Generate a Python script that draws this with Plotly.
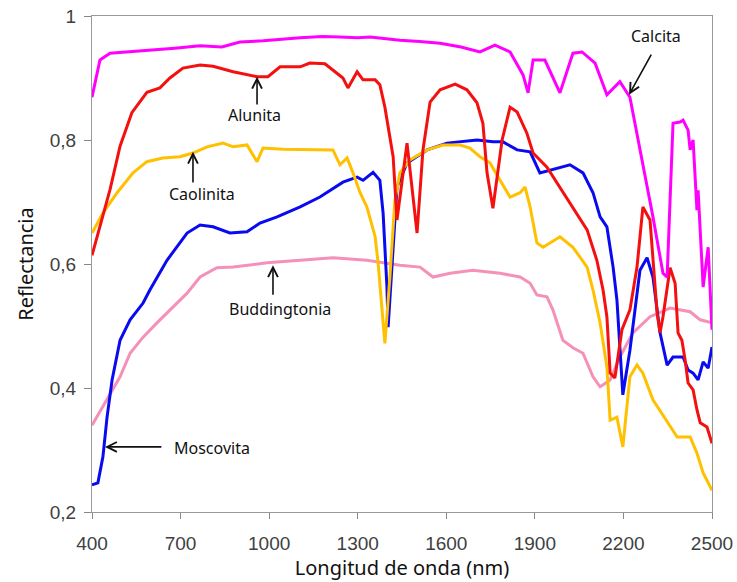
import plotly.graph_objects as go

# ---- data (wavelength nm, reflectance) ----
calcita_x = [400, 427, 461, 520, 596, 680, 766, 840, 901, 980, 1105, 1180, 1240, 1300, 1342, 1400,
             1443, 1510, 1579, 1650, 1714, 1765, 1816, 1860, 1877, 1894, 1934, 1985, 2029, 2060,
             2104, 2144, 2188, 2222, 2266, 2300, 2334, 2348, 2368, 2392, 2402, 2419, 2426, 2436,
             2449, 2453, 2470, 2487, 2500]
calcita_y = [0.869, 0.929, 0.940, 0.942, 0.945, 0.948, 0.952, 0.950, 0.958, 0.960, 0.965, 0.967, 0.966, 0.965, 0.966, 0.963,
             0.961, 0.959, 0.956, 0.950, 0.942, 0.953, 0.942, 0.905, 0.876, 0.929, 0.929, 0.876, 0.940, 0.942,
             0.924, 0.873, 0.894, 0.869, 0.763, 0.676, 0.585, 0.579, 0.827, 0.829, 0.832, 0.816, 0.784, 0.800,
             0.687, 0.719, 0.563, 0.627, 0.494]

alunita_x = [400, 427, 461, 495, 535, 586, 630, 664, 708, 766, 810, 878, 959, 996, 1037, 1105, 1138,
             1189, 1250, 1267, 1298, 1318, 1359, 1375, 1392, 1420, 1433, 1467, 1501, 1521, 1545, 1579,
             1630, 1670, 1704, 1724, 1738, 1758, 1789, 1816, 1840, 1873, 1894, 1941, 1985, 2029, 2077,
             2110, 2131, 2144, 2155, 2171, 2195, 2222, 2246, 2266, 2290, 2314, 2324, 2334, 2351, 2358,
             2375, 2385, 2398, 2409, 2419, 2436, 2449, 2460, 2483, 2500]
alunita_y = [0.614, 0.660, 0.720, 0.790, 0.844, 0.877, 0.884, 0.900, 0.916, 0.921, 0.919, 0.910, 0.902, 0.902, 0.918, 0.918, 0.924,
             0.923, 0.900, 0.884, 0.910, 0.897, 0.897, 0.889, 0.853, 0.773, 0.671, 0.795, 0.650, 0.784, 0.861, 0.881,
             0.890, 0.881, 0.860, 0.827, 0.747, 0.690, 0.800, 0.853, 0.845, 0.811, 0.779, 0.756, 0.724, 0.692, 0.655,
             0.606, 0.558, 0.515, 0.424, 0.416, 0.494, 0.526, 0.595, 0.692, 0.671, 0.521, 0.489, 0.515, 0.569, 0.594,
             0.569, 0.489, 0.477, 0.445, 0.408, 0.397, 0.365, 0.344, 0.337, 0.311]

caolinita_x = [400, 437, 485, 539, 586, 640, 698, 742, 790, 844, 878, 925, 959, 979, 1047, 1162, 1216,
               1240, 1264, 1284, 1308, 1331, 1348, 1359, 1369, 1382, 1392, 1409, 1426, 1443, 1477, 1535,
               1589, 1646, 1680, 1714, 1748, 1782, 1816, 1850, 1867, 1884, 1907, 1928, 1985, 2029, 2077,
               2097, 2121, 2144, 2155, 2178, 2198, 2222, 2246, 2266, 2300, 2334, 2382, 2426, 2449, 2470, 2500]
caolinita_y = [0.650, 0.682, 0.715, 0.747, 0.765, 0.771, 0.773, 0.779, 0.789, 0.795, 0.789, 0.792, 0.765, 0.787, 0.785, 0.785, 0.784,
               0.760, 0.771, 0.747, 0.715, 0.692, 0.660, 0.644, 0.602, 0.531, 0.472, 0.579, 0.703, 0.747, 0.768, 0.784,
               0.792, 0.792, 0.787, 0.773, 0.763, 0.735, 0.708, 0.715, 0.724, 0.692, 0.634, 0.627, 0.644, 0.627, 0.595,
               0.558, 0.505, 0.434, 0.348, 0.353, 0.305, 0.418, 0.437, 0.424, 0.381, 0.356, 0.321, 0.321, 0.295, 0.263, 0.235]

moscovita_x = [400, 420, 437, 451, 468, 495, 529, 573, 596, 654, 722, 766, 810, 867, 925, 969, 1027,
               1105, 1172, 1250, 1298, 1318, 1352, 1375, 1386, 1399, 1403, 1420, 1433, 1467, 1535, 1602,
               1704, 1758, 1792, 1840, 1884, 1917, 1985, 2019, 2063, 2097, 2121, 2144, 2165, 2178, 2198,
               2222, 2256, 2280, 2300, 2324, 2348, 2368, 2402, 2419, 2436, 2453, 2470, 2487, 2500]
moscovita_y = [0.244, 0.247, 0.289, 0.353, 0.413, 0.477, 0.510, 0.537, 0.558, 0.606, 0.650, 0.663, 0.660, 0.650, 0.652, 0.666, 0.676,
               0.692, 0.708, 0.732, 0.740, 0.735, 0.748, 0.735, 0.682, 0.563, 0.498, 0.618, 0.724, 0.763, 0.784, 0.795,
               0.800, 0.797, 0.797, 0.784, 0.781, 0.747, 0.755, 0.760, 0.747, 0.715, 0.676, 0.660, 0.595, 0.542, 0.389,
               0.461, 0.590, 0.610, 0.579, 0.489, 0.437, 0.450, 0.450, 0.429, 0.424, 0.413, 0.442, 0.432, 0.466]

budd_x = [400, 451, 495, 529, 573, 620, 674, 722, 766, 823, 878, 993, 1105, 1216, 1331, 1443, 1511,
          1555, 1613, 1690, 1782, 1850, 1884, 1907, 1941, 1961, 1995, 2029, 2063, 2097, 2121, 2155,
          2188, 2232, 2290, 2358, 2426, 2460, 2500]
budd_y = [0.340, 0.381, 0.418, 0.456, 0.482, 0.505, 0.531, 0.553, 0.579, 0.594, 0.595, 0.602, 0.606, 0.610, 0.606, 0.598, 0.595,
          0.579, 0.585, 0.590, 0.585, 0.579, 0.569, 0.550, 0.547, 0.526, 0.477, 0.465, 0.456, 0.418, 0.402, 0.413,
          0.450, 0.489, 0.515, 0.529, 0.523, 0.510, 0.505]

x_ticks = [400, 700, 1000, 1300, 1600, 1900, 2200, 2500]
y_ticks = [0.2, 0.4, 0.6, 0.8, 1.0]
y_tick_labels = ["0,2", "0,4", "0,6", "0,8", "1"]

series = [
    ("Calcita", calcita_x, calcita_y, "#FF00FF"),
    ("Alunita", alunita_x, alunita_y, "#F51010"),
    ("Caolinita", caolinita_x, caolinita_y, "#FFC000"),
    ("Moscovita", moscovita_x, moscovita_y, "#0A0AF0"),
    ("Buddingtonia", budd_x, budd_y, "#F590B8"),
]

fig = go.Figure()
for name, xs, ys, col in series[::-1]:
    fig.add_trace(go.Scatter(x=xs, y=ys, mode="lines", name=name,
                             line=dict(color=col, width=3), showlegend=False))

afont = dict(family="Noto Sans, sans-serif", size=16, color="#111111")

# labels: (text, text_x, text_y, arrow head x, y, arrow tail x, y)
labels = [
    ("Calcita", 2310, 0.968, 2219, 0.873, 2297, 0.940),
    ("Alunita", 952, 0.840, 959, 0.902, 959, 0.855),
    ("Caolinita", 773, 0.713, 742, 0.781, 742, 0.729),
    ("Buddingtonia", 1037, 0.527, 1013, 0.598, 1013, 0.548),
    ("Moscovita", 806, 0.303, 444, 0.305, 640, 0.305),
]
for t, tx, ty, hx, hy, sx, sy in labels:
    fig.add_annotation(x=tx, y=ty, text=t, showarrow=False, font=afont, xref="x", yref="y")
    fig.add_annotation(x=hx, y=hy, ax=sx, ay=sy, axref="x", ayref="y", xref="x", yref="y",
                       text="", showarrow=True, arrowhead=5, arrowsize=1.2, arrowwidth=1.6,
                       arrowcolor="#111111")

tfont = dict(family="Liberation Sans, Arial, sans-serif", size=19, color="#404040")
title_font = dict(family="Noto Sans, sans-serif", size=20, color="#111111")
fig.update_layout(
    width=737, height=582,
    margin=dict(l=92, r=25, t=16, b=70),
    paper_bgcolor="white", plot_bgcolor="white",
    xaxis=dict(range=[400, 2500], tickvals=x_ticks, ticks="outside", ticklen=6,
               tickcolor="#888888", linecolor="#999999", linewidth=1, mirror=True,
               showgrid=False, zeroline=False, tickfont=tfont, automargin=False,
               ticklabeloverflow="allow", ticklabelstandoff=8,
               title=dict(text="Longitud de onda (nm)", font=title_font, standoff=4)),
    yaxis=dict(range=[0.2, 1.0], tickvals=y_ticks, ticktext=y_tick_labels, ticks="outside",
               ticklen=7, tickcolor="#888888", linecolor="#999999", linewidth=1, mirror=True,
               showgrid=False, zeroline=False, tickfont=tfont, automargin=False,
               ticklabeloverflow="allow", ticklabelstandoff=4,
               title=dict(text="Reflectancia", font=title_font, standoff=10)),
)

fig.write_html("out.html", config={"displayModeBar": False},
               post_script="document.body.style.margin='0';document.body.style.overflow='hidden';")
